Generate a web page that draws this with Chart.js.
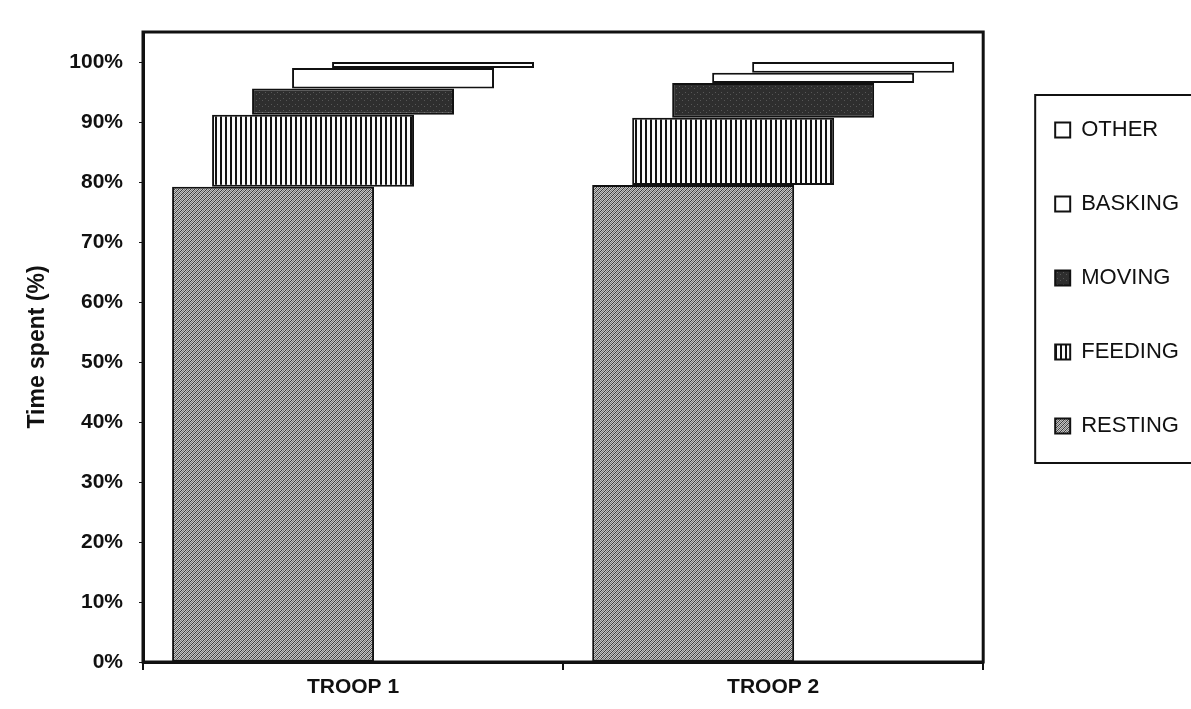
<!DOCTYPE html>
<html><head><meta charset="utf-8">
<style>html,body{margin:0;padding:0;background:#fff;overflow:hidden}</style>
<script src="https://cdn.jsdelivr.net/npm/chart.js@4.4.1/dist/chart.umd.min.js"></script>
</head><body>
<canvas id="c" width="1191" height="709" style="display:block;width:1191px;height:709px"></canvas>
<script>
// ---- data ----
const categories = ['TROOP 1', 'TROOP 2'];
const activities = ['RESTING', 'FEEDING', 'MOVING', 'BASKING', 'OTHER'];
const resting = [79.2, 79.5];
const feeding = [12.0, 11.2];
const moving  = [4.4, 5.8];
const basking = [3.4, 1.7];
const other   = [1.0, 1.8];
const yTicks  = [0, 10, 20, 30, 40, 50, 60, 70, 80, 90, 100];
const yTitle  = 'Time spent (%)';

const series = [resting, feeding, moving, basking, other];
const FONT = "'Liberation Sans', Arial, Helvetica, sans-serif";
const INK = '#111';

function makePattern(w, h, draw) {
  const c = document.createElement('canvas');
  c.width = w; c.height = h;
  const g = c.getContext('2d');
  draw(g, w, h);
  return g.createPattern(c, 'repeat');
}
const restFill = makePattern(4, 4, (g) => {
  g.fillStyle = '#c4c4c4'; g.fillRect(0, 0, 4, 4);
  for (let i = 0; i < 4; i++) {
    g.fillStyle = '#3a3a3a'; g.fillRect(i, 3 - i, 1, 1);
    g.fillStyle = '#7c7c7c'; g.fillRect(i, (5 - i) % 4, 1, 1);
  }
});
const feedFill = makePattern(5, 5, (g) => {
  g.fillStyle = '#fafafa'; g.fillRect(0, 0, 5, 5);
  g.fillStyle = '#111'; g.fillRect(0, 0, 2, 5);
});
const moveFill = makePattern(6, 6, (g) => {
  g.fillStyle = '#2e2e2e'; g.fillRect(0, 0, 6, 6);
  g.fillStyle = '#575757'; g.fillRect(1, 2, 1, 1); g.fillRect(4, 4, 1, 1);
});
const fills = [restFill, feedFill, moveFill, '#ffffff', '#ffffff'];

// floating segments built from cumulative sums
const datasets = activities.map((name, i) => ({
  label: name,
  data: categories.map((_, j) => {
    let lo = 0;
    for (let k = 0; k < i; k++) lo += series[k][j];
    return [lo, lo + series[i][j]];
  }),
  backgroundColor: fills[i],
  borderColor: INK,
  borderWidth: 2,
  borderSkipped: false,
  categoryPercentage: 0.476,
  barPercentage: 5.05,
  yAxisID: 'y'
}));

const framePlugin = {
  id: 'frame',
  afterDatasetsDraw(chart) {
    const { ctx, chartArea: a } = chart;
    ctx.save();
    ctx.strokeStyle = INK; ctx.lineWidth = 3;
    ctx.strokeRect(a.left, a.top, a.right - a.left, a.bottom - a.top);
    ctx.restore();
  },
  afterDraw(chart) {
    const lg = chart.legend;
    if (!lg || !lg.legendHitBoxes || !lg.legendHitBoxes.length) return;
    const hb = lg.legendHitBoxes;
    const first = hb[0], last = hb[hb.length - 1];
    const ctx = chart.ctx;
    ctx.save();
    ctx.strokeStyle = INK; ctx.lineWidth = 2;
    const l = first.left - 20, t = first.top - 24;
    ctx.strokeRect(l, t, chart.width + 10 - l, last.top + last.height + 26 - t);
    ctx.restore();
  }
};

new Chart(document.getElementById('c'), {
  type: 'bar',
  data: { labels: categories, datasets },
  plugins: [framePlugin],
  options: {
    responsive: false,
    animation: false,
    layout: { padding: { top: 32, right: 2, left: 0, bottom: 0 } },
    scales: {
      x: {
        type: 'category',
        offset: true,
        grid: { display: true, drawOnChartArea: false, color: INK, lineWidth: 2, tickLength: 8, offset: true },
        border: { display: true, color: INK, width: 3 },
        ticks: { color: INK, padding: 5, font: { family: FONT, size: 21, weight: 'bold' } },
        afterFit: (s) => { s.height = 47; }
      },
      y: {
        min: 0, max: 105,
        afterBuildTicks: (s) => { s.ticks = yTicks.map(v => ({ value: v })); },
        grid: { display: true, drawOnChartArea: false, color: INK, lineWidth: 1, tickLength: 4 },
        border: { display: true, color: INK, width: 3 },
        ticks: { color: INK, padding: 16, callback: (v) => v + '%', font: { family: FONT, size: 21, weight: 'bold' } },
        title: { display: true, text: yTitle, color: INK, padding: { top: 24, bottom: 0 }, font: { family: FONT, size: 23, weight: 'bold' } },
        afterFit: (s) => { s.width = 143; }
      },
      gap: {
        position: 'right', display: true,
        grid: { display: false }, border: { display: false }, ticks: { display: false },
        afterFit: (s) => { s.width = 20; }
      }
    },
    plugins: {
      legend: {
        position: 'right', align: 'start', reverse: true,
        title: { display: true, text: '', padding: { top: 23, bottom: 0 }, font: { size: 10 } },
        labels: { boxWidth: 15, boxHeight: 15, padding: 52, color: INK, font: { family: FONT, size: 22 } }
      },
      tooltip: { enabled: false }
    }
  }
});
</script>
</body></html>
